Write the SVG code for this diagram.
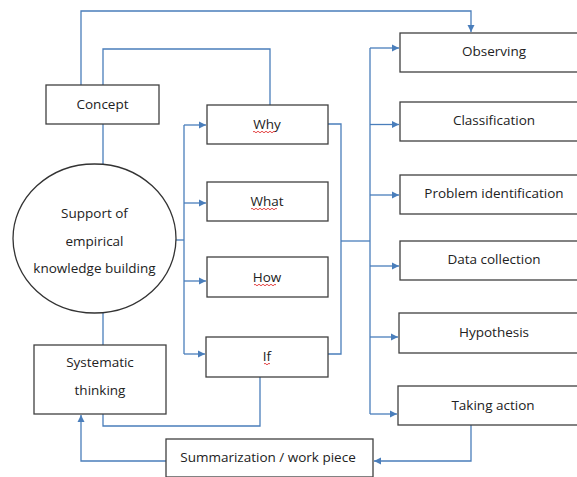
<svg xmlns="http://www.w3.org/2000/svg" width="577" height="477" viewBox="0 0 577 477">
<defs>
<marker id="ah" markerWidth="8" markerHeight="8" refX="7" refY="4" orient="auto" markerUnits="userSpaceOnUse">
<path d="M0,0.5 L7,4 L0,7.5 Z" fill="#4a7ebb"/>
</marker>
</defs>
<style>
.box{fill:#fff;stroke:#404040;stroke-width:1.3}
.t{font-family:"Open Sans","Noto Sans","Liberation Sans",sans-serif;font-size:13.5px;fill:#222;text-anchor:middle}
.c{fill:none;stroke:#4a7ebb;stroke-width:1.3}
.sq{fill:none;stroke:#e03030;stroke-width:0.9}
</style>
<rect width="577" height="477" fill="#fff"/>
<g id="connectors">
<path class="c" d="M81,85 V11 H471 V32" marker-end="url(#ah)"/>
<path class="c" d="M103,85 V49 H270 V105"/>
<path class="c" d="M103,124 V164"/>
<path class="c" d="M103,313 V345"/>
<path class="c" d="M176,240 H184"/>
<path class="c" d="M184,125 V354"/>
<path class="c" d="M184,125 H206" marker-end="url(#ah)"/>
<path class="c" d="M184,203 H206" marker-end="url(#ah)"/>
<path class="c" d="M184,281 H206" marker-end="url(#ah)"/>
<path class="c" d="M184,354 H205" marker-end="url(#ah)"/>
<path class="c" d="M328,124 H341 V354 H328"/>
<path class="c" d="M341,241 H370"/>
<path class="c" d="M370,48 V414"/>
<path class="c" d="M370,48 H399" marker-end="url(#ah)"/>
<path class="c" d="M370,124.5 H399" marker-end="url(#ah)"/>
<path class="c" d="M370,195 H399" marker-end="url(#ah)"/>
<path class="c" d="M370,266 H399" marker-end="url(#ah)"/>
<path class="c" d="M370,337 H398" marker-end="url(#ah)"/>
<path class="c" d="M370,414 H397" marker-end="url(#ah)"/>
<path class="c" d="M260,377 V426 H103 V414"/>
<path class="c" d="M471,425 V461 H374" marker-end="url(#ah)"/>
<path class="c" d="M166,461 H81 V415" marker-end="url(#ah)"/>
</g>
<g id="concept">
<rect class="box" x="46" y="85" width="113" height="39"/>
<text class="t" x="102.5" y="109">Concept</text>
</g>
<g id="support">
<ellipse cx="94.5" cy="238.5" rx="81.5" ry="74.5" fill="#fff" stroke="#333" stroke-width="1.3"/>
<text class="t" x="94.5" y="218">Support of</text>
<text class="t" x="94.5" y="246">empirical</text>
<text class="t" x="94.5" y="273">knowledge building</text>
</g>
<g id="systematic">
<rect class="box" x="34" y="345" width="132" height="69"/>
<text class="t" x="100" y="367">Systematic</text>
<text class="t" x="100" y="395">thinking</text>
</g>
<g id="why">
<rect class="box" x="207" y="105" width="121" height="39"/>
<text class="t" x="267" y="129">Why</text>
<path class="sq" d="M253,132 q1,-1.5 2,0 t2,0 t2,0 t2,0 t2,0 t2,0 t2,0 t2,0 t2,0 t2,0 t2,0"/>
</g>
<g id="what">
<rect class="box" x="207" y="182" width="121" height="39"/>
<text class="t" x="267" y="206">What</text>
<path class="sq" d="M251,209 q1,-1.5 2,0 t2,0 t2,0 t2,0 t2,0 t2,0 t2,0 t2,0 t2,0 t2,0 t2,0 t2,0 t2,0"/>
</g>
<g id="how">
<rect class="box" x="207" y="257" width="121" height="40"/>
<text class="t" x="267" y="282">How</text>
<path class="sq" d="M254,285 q1,-1.5 2,0 t2,0 t2,0 t2,0 t2,0 t2,0 t2,0 t2,0 t2,0 t2,0 t2,0"/>
</g>
<g id="if">
<rect class="box" x="206" y="337" width="122" height="40"/>
<text class="t" x="267" y="361">If</text>
<path class="sq" d="M264,364 q1,-1.5 2,0 t2,0 t2,0"/>
</g>
<g id="observing">
<rect class="box" x="400" y="33" width="190" height="39"/>
<text class="t" x="494" y="56">Observing</text>
</g>
<g id="classification">
<rect class="box" x="400" y="102" width="190" height="39"/>
<text class="t" x="494" y="125">Classification</text>
</g>
<g id="problem">
<rect class="box" x="400" y="175" width="190" height="39"/>
<text class="t" x="494" y="198">Problem identification</text>
</g>
<g id="data">
<rect class="box" x="400" y="241" width="190" height="39"/>
<text class="t" x="494" y="264">Data collection</text>
</g>
<g id="hypothesis">
<rect class="box" x="399" y="313" width="190" height="40"/>
<text class="t" x="494" y="337">Hypothesis</text>
</g>
<g id="taking">
<rect class="box" x="398" y="386" width="190" height="39"/>
<text class="t" x="493" y="410">Taking action</text>
</g>
<g id="summarization">
<rect class="box" x="166" y="439" width="207" height="38"/>
<text class="t" x="268" y="462">Summarization / work piece</text>
</g>
</svg>
